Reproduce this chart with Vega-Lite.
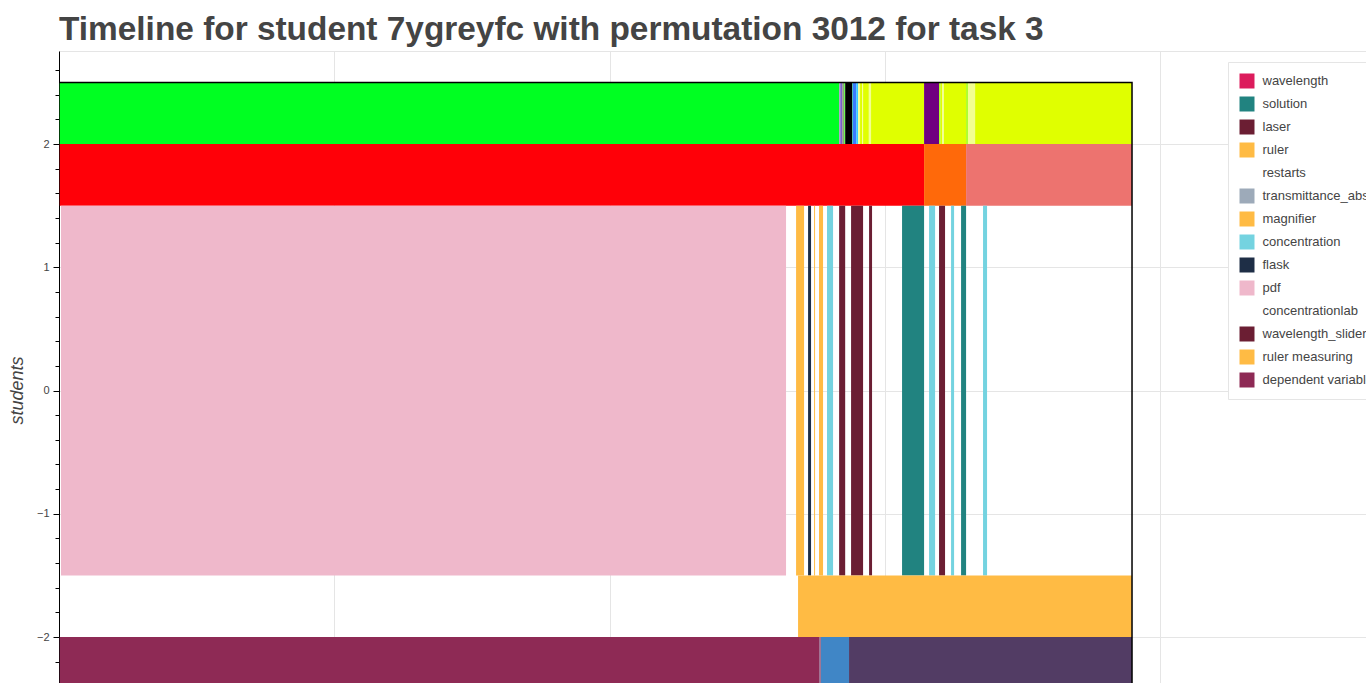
{
  "$schema": "https://vega.github.io/schema/vega-lite/v6.json",
  "autosize": {"type": "none"},
  "width": 1307,
  "height": 632,
  "padding": {"left": 59, "top": 51, "right": 0, "bottom": 0},
  "background": "white",
  "view": {"stroke": null},
  "title": {
    "text": "Timeline for student 7ygreyfc with permutation 3012 for task 3",
    "anchor": "start",
    "frame": "group",
    "font": "Liberation Sans",
    "fontSize": 33.4,
    "fontWeight": "bold",
    "color": "#444444",
    "offset": 4
  },
  "datasets": {
    "segments": [
      {"start": 0, "end": 1417, "y0": 2, "y1": 2.5, "label": "state green"},
      {"start": 1417, "end": 1419, "y0": 2, "y1": 2.5, "label": "state lilac"},
      {"start": 1419, "end": 1422.6, "y0": 2, "y1": 2.5, "label": "state violet"},
      {"start": 1422.6, "end": 1426, "y0": 2, "y1": 2.5, "label": "state olive"},
      {"start": 1426, "end": 1428, "y0": 2, "y1": 2.5, "label": "state lime"},
      {"start": 1428, "end": 1440.5, "y0": 2, "y1": 2.5, "label": "state black"},
      {"start": 1440.5, "end": 1442, "y0": 2, "y1": 2.5, "label": "state teal"},
      {"start": 1442, "end": 1448, "y0": 2, "y1": 2.5, "label": "state blue"},
      {"start": 1448, "end": 1451.5, "y0": 2, "y1": 2.5, "label": "state sky"},
      {"start": 1451.5, "end": 1455, "y0": 2, "y1": 2.5, "label": "state pale"},
      {"start": 1455, "end": 1459, "y0": 2, "y1": 2.5, "label": "state yellow"},
      {"start": 1459, "end": 1460.5, "y0": 2, "y1": 2.5, "label": "state pale"},
      {"start": 1460.5, "end": 1471, "y0": 2, "y1": 2.5, "label": "state yellow"},
      {"start": 1471, "end": 1475, "y0": 2, "y1": 2.5, "label": "state pale"},
      {"start": 1475, "end": 1571.3, "y0": 2, "y1": 2.5, "label": "state yellow"},
      {"start": 1571.3, "end": 1598.5, "y0": 2, "y1": 2.5, "label": "state purple"},
      {"start": 1598.5, "end": 1601.5, "y0": 2, "y1": 2.5, "label": "state chartreuse"},
      {"start": 1601.5, "end": 1604, "y0": 2, "y1": 2.5, "label": "state yellow"},
      {"start": 1604, "end": 1607.5, "y0": 2, "y1": 2.5, "label": "state pale"},
      {"start": 1607.5, "end": 1647.6, "y0": 2, "y1": 2.5, "label": "state yellow"},
      {"start": 1647.6, "end": 1651, "y0": 2, "y1": 2.5, "label": "state chartreuse"},
      {"start": 1651, "end": 1664, "y0": 2, "y1": 2.5, "label": "state pale"},
      {"start": 1664, "end": 1949, "y0": 2, "y1": 2.5, "label": "state yellow"},
      {"start": 0, "end": 1571.3, "y0": 1.5, "y1": 2, "label": "phase red"},
      {"start": 1571.3, "end": 1647.6, "y0": 1.5, "y1": 2, "label": "phase orange"},
      {"start": 1647.6, "end": 1949, "y0": 1.5, "y1": 2, "label": "phase salmon"},
      {"start": 3.6, "end": 1320.6, "y0": -1.5, "y1": 1.5, "label": "pdf"},
      {"start": 1338.8, "end": 1353.3, "y0": -1.5, "y1": 1.5, "label": "ruler"},
      {"start": 1360.6, "end": 1366, "y0": -1.5, "y1": 1.5, "label": "flask"},
      {"start": 1371.5, "end": 1373.3, "y0": -1.5, "y1": 1.5, "label": "ruler"},
      {"start": 1380.5, "end": 1387.8, "y0": -1.5, "y1": 1.5, "label": "magnifier"},
      {"start": 1395, "end": 1406, "y0": -1.5, "y1": 1.5, "label": "concentration"},
      {"start": 1417, "end": 1428, "y0": -1.5, "y1": 1.5, "label": "laser"},
      {"start": 1438.7, "end": 1460.5, "y0": -1.5, "y1": 1.5, "label": "wavelength_slider"},
      {"start": 1471.4, "end": 1476.8, "y0": -1.5, "y1": 1.5, "label": "laser"},
      {"start": 1531.3, "end": 1571.3, "y0": -1.5, "y1": 1.5, "label": "solution"},
      {"start": 1580.4, "end": 1591.3, "y0": -1.5, "y1": 1.5, "label": "concentration"},
      {"start": 1598.5, "end": 1609.4, "y0": -1.5, "y1": 1.5, "label": "wavelength_slider"},
      {"start": 1620.3, "end": 1625.8, "y0": -1.5, "y1": 1.5, "label": "concentration"},
      {"start": 1638.5, "end": 1647.6, "y0": -1.5, "y1": 1.5, "label": "solution"},
      {"start": 1678.4, "end": 1685.7, "y0": -1.5, "y1": 1.5, "label": "concentration"},
      {"start": 1342.4, "end": 1949, "y0": -2, "y1": -1.5, "label": "ruler measuring"},
      {"start": 0, "end": 1380.5, "y0": -2.5, "y1": -2, "label": "dependent variable"},
      {"start": 1380.5, "end": 1384, "y0": -2.5, "y1": -2, "label": "variable switch"},
      {"start": 1384, "end": 1435, "y0": -2.5, "y1": -2, "label": "independent variable"},
      {"start": 1435, "end": 1949, "y0": -2.5, "y1": -2, "label": "controlled variable"}
    ],
    "frame": [
      {"start": 0, "end": 1949, "y0": -2.5, "y1": 2.5}
    ]
  },
  "layer": [
    {
      "data": {"name": "segments"},
      "mark": {"type": "rect", "clip": true},
      "encoding": {
        "x": {
          "field": "start",
          "type": "quantitative",
          "scale": {"domain": [0, 2374], "nice": false, "zero": false},
          "axis": {
            "orient": "top",
            "title": null,
            "values": [0, 500, 1000, 1500, 2000],
            "labels": false,
            "ticks": false,
            "domain": true,
            "domainColor": "#e5e5e5",
            "domainWidth": 1,
            "grid": true,
            "gridColor": "#e5e5e5",
            "gridWidth": 1
          }
        },
        "x2": {"field": "end"},
        "y": {
          "field": "y0",
          "type": "quantitative",
          "scale": {"domain": [-2.373, 2.755], "nice": false, "zero": false},
          "axis": {
            "title": "students",
            "titleFont": "Liberation Sans",
            "titleFontSize": 18,
            "titleFontStyle": "italic",
            "titleFontWeight": "normal",
            "titleColor": "#444444",
            "titleX": -42,
            "titleY": 339,
            "titleBaseline": "middle",
            "values": [-2.2, -2, -1.8, -1.6, -1.4, -1.2, -1, -0.8, -0.6, -0.4, -0.2, 0, 0.2, 0.4, 0.6, 0.8, 1, 1.2, 1.4, 1.6, 1.8, 2, 2.2, 2.4, 2.6],
            "tickCount": 60,
            "labelOverlap": false,
            "labelExpr": "abs(datum.value - round(datum.value)) < 0.001 ? format(datum.value, 'd') : ''",
            "labelFont": "Liberation Sans",
            "labelFontSize": 11,
            "labelColor": "#444444",
            "labelPadding": 4,
            "tickColor": "black",
            "tickSize": {"condition": {"test": "abs(datum.value - round(datum.value)) < 0.001", "value": 6}, "value": 4},
            "domainColor": "black",
            "domainWidth": 1,
            "grid": true,
            "gridColor": "#e5e5e5",
            "gridOpacity": {"condition": {"test": "abs(datum.value - round(datum.value)) < 0.001", "value": 1}, "value": 0}
          }
        },
        "y2": {"field": "y1"},
        "color": {
          "field": "label",
          "type": "nominal",
          "scale": {
            "domain": ["wavelength", "solution", "laser", "ruler", "restarts", "transmittance_absorbance", "magnifier", "concentration", "flask", "pdf", "concentrationlab", "wavelength_slider", "ruler measuring", "dependent variable",
              "state green", "state lilac", "state violet", "state olive", "state lime", "state black", "state teal", "state blue", "state sky", "state pale", "state yellow", "state purple", "state chartreuse",
              "phase red", "phase orange", "phase salmon", "variable switch", "independent variable", "controlled variable"],
            "range": ["#dc1c5c", "#218380", "#6b1e33", "#ffbb44", "#ffffff", "#9daab9", "#ffbb44", "#74d3e0", "#1e2e46", "#efb8cb", "#ffffff", "#6b1e33", "#ffbb44", "#8e2a55",
              "#00ff22", "#a99cc8", "#7a5ec8", "#8aa080", "#60ff40", "#000000", "#30c0a0", "#3a7bff", "#38c8ff", "#f2ff90", "#e0ff00", "#700080", "#a8ff20",
              "#ff0008", "#ff690a", "#ed736f", "#a07090", "#4086c6", "#523c64"]
          },
          "legend": {
            "orient": "none",
            "legendX": 1169,
            "legendY": 11,
            "title": null,
            "values": ["wavelength", "solution", "laser", "ruler", "restarts", "transmittance_absorbance", "magnifier", "concentration", "flask", "pdf", "concentrationlab", "wavelength_slider", "ruler measuring", "dependent variable"],
            "symbolType": "square",
            "symbolSize": 225,
            "symbolStrokeWidth": 0,
            "symbolOpacity": 1,
            "labelFont": "Liberation Sans",
            "labelFontSize": 13,
            "labelColor": "#444444",
            "labelOffset": 8,
            "labelLimit": 400,
            "rowPadding": 8,
            "padding": 11.5,
            "strokeColor": "#e5e5e5",
            "fillColor": "white"
          }
        }
      }
    },
    {
      "data": {"name": "frame"},
      "mark": {"type": "rect", "clip": true, "fill": "transparent", "stroke": "black", "strokeWidth": 1.5},
      "encoding": {
        "x": {"field": "start", "type": "quantitative"},
        "x2": {"field": "end"},
        "y": {"field": "y0", "type": "quantitative"},
        "y2": {"field": "y1"}
      }
    }
  ]
}
